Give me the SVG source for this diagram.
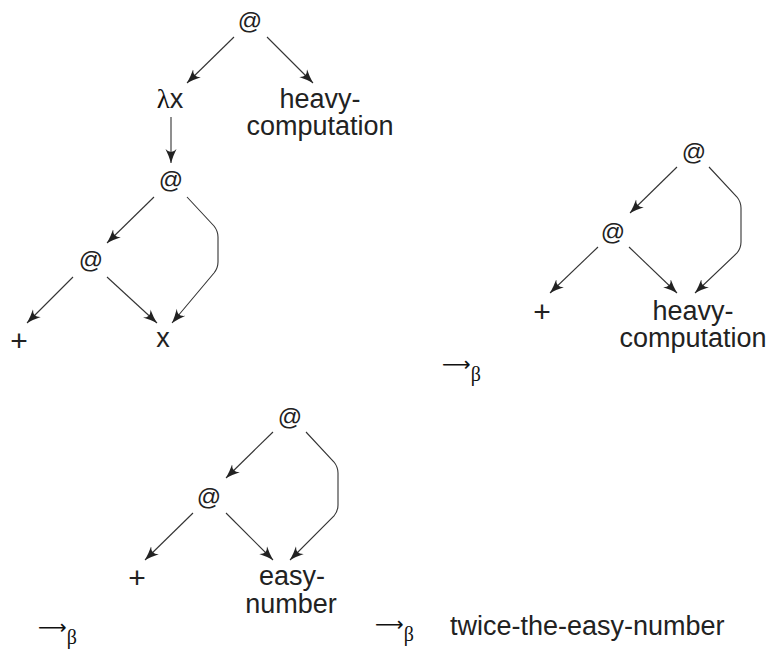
<svg xmlns="http://www.w3.org/2000/svg" width="775" height="650" viewBox="0 0 775 650">
<style>
.t{font-family:"Liberation Sans",Arial,sans-serif;font-size:27px;fill:#222;text-anchor:middle}
.p{font-family:"Liberation Sans",Arial,sans-serif;font-size:30px;fill:#222;text-anchor:middle}
.at{font-family:"Liberation Sans",Arial,sans-serif;font-size:24px;fill:#222;text-anchor:middle}
.g{font-family:"Liberation Serif","Times New Roman",serif;fill:#111}
.ar{font-family:"DejaVu Sans",sans-serif;font-size:20px;fill:#111}
.e{fill:none;stroke:#333;stroke-width:1.1;marker-end:url(#ah)}
</style>
<defs>
<marker id="ah" markerUnits="userSpaceOnUse" markerWidth="16" markerHeight="12" refX="14" refY="6" orient="auto">
<path d="M0,0.5 Q7,4 14,6 Q7,8 0,11.5 Q6,6 0,0.5 Z" fill="#222"/>
</marker>
</defs>
<g id="edges">
<path class="e" d="M234,37 L187,83"/>
<path class="e" d="M267,37 L313,83"/>
<path class="e" d="M171,117 L171,163"/>
<path class="e" d="M154,197 L107,243"/>
<path class="e" d="M187,197 L214,226 Q218,231 218,237 L218,262 Q218,268 214,273 L172,323"/>
<path class="e" d="M73,277 L27,323"/>
<path class="e" d="M107,277 L157,323"/>
<path class="e" d="M677,167 L630,213"/>
<path class="e" d="M709,167 L737,197 Q741,202 741,208 L741,242 Q741,248 737,253 L695,293"/>
<path class="e" d="M598,247 L550,293"/>
<path class="e" d="M629,247 L677,293"/>
<path class="e" d="M273,432 L226,478"/>
<path class="e" d="M306,432 L334,462 Q338,467 338,473 L338,505 Q338,511 334,516 L290,560"/>
<path class="e" d="M193,513 L145,560"/>
<path class="e" d="M226,513 L273,560"/>
</g>
<g id="n1-app"><text class="at" x="250" y="29">@</text></g>
<g id="n1-lam"><text class="t" x="170" y="108"><tspan class="g">λ</tspan>x</text></g>
<g id="n1-heavy"><text class="t"><tspan x="320" y="108">heavy-</tspan><tspan x="320" y="135">computation</tspan></text></g>
<g id="n1-app2"><text class="at" x="171" y="188">@</text></g>
<g id="n1-app3"><text class="at" x="91" y="268">@</text></g>
<g id="n1-plus"><text class="p" x="19" y="351">+</text></g>
<g id="n1-x"><text class="t" x="163" y="347">x</text></g>
<g id="n2-app"><text class="at" x="694" y="160">@</text></g>
<g id="n2-app2"><text class="at" x="613" y="240">@</text></g>
<g id="n2-plus"><text class="p" x="542" y="322">+</text></g>
<g id="n2-heavy"><text class="t"><tspan x="693" y="320">heavy-</tspan><tspan x="693" y="347">computation</tspan></text></g>
<g id="n3-app"><text class="at" x="290" y="425">@</text></g>
<g id="n3-app2"><text class="at" x="209" y="505">@</text></g>
<g id="n3-plus"><text class="p" x="137" y="588">+</text></g>
<g id="n3-easy"><text class="t"><tspan x="292" y="585">easy-</tspan><tspan x="291" y="613">number</tspan></text></g>
<g id="beta1"><text class="ar" x="442" y="371">⟶<tspan class="g" font-size="20" dy="10">β</tspan></text></g>
<g id="beta2"><text class="ar" x="38" y="634">⟶<tspan class="g" font-size="20" dy="10">β</tspan></text></g>
<g id="beta3"><text class="ar" x="375" y="631">⟶<tspan class="g" font-size="20" dy="10">β</tspan></text></g>
<g id="result"><text class="t" x="450" y="635" style="text-anchor:start">twice-the-easy-number</text></g>
</svg>
